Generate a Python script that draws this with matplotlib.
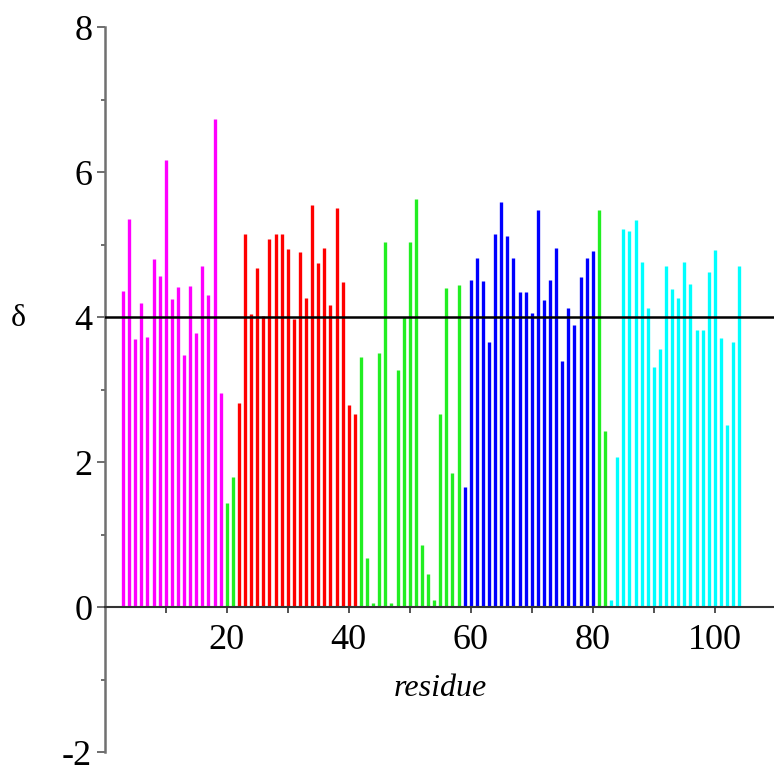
import matplotlib
matplotlib.use("Agg")
import matplotlib.pyplot as plt

plt.rcParams['font.family'] = ['Liberation Serif', 'DejaVu Serif']
plt.rcParams['axes.unicode_minus'] = False

# residue numbers and delta values, one group per colour
magenta_res = list(range(3, 20))
magenta_val = [4.36, 5.35, 3.69, 4.19, 3.72, 4.80, 4.56, 6.16, 4.25, 4.42,
               3.48, 4.43, 3.78, 4.70, 4.30, 6.73, 2.95]

green1_res = [20, 21]
green1_val = [1.44, 1.79]

red_res = list(range(22, 42))
red_val = [2.82, 5.15, 4.04, 4.68, 4.02, 5.08, 5.14, 5.15, 4.94, 3.97,
           4.89, 4.26, 5.54, 4.74, 4.95, 4.17, 5.51, 4.48, 2.78, 2.66]

green2_res = list(range(42, 59))
green2_val = [3.45, 0.67, 0.05, 3.50, 5.04, 0.05, 3.27, 4.00, 5.04, 5.63,
              0.86, 0.45, 0.09, 2.66, 4.40, 1.85, 4.44]

blue_res = list(range(59, 81))
blue_val = [1.66, 4.51, 4.82, 4.50, 3.65, 5.15, 5.59, 5.12, 4.82, 4.35, 4.35,
            4.05, 5.47, 4.23, 4.51, 4.95, 3.40, 4.13, 3.89, 4.55, 4.82, 4.91]

green3_res = [81, 82]
green3_val = [5.48, 2.43]

cyan_res = list(range(83, 105))
cyan_val = [0.09, 2.07, 5.22, 5.18, 5.34, 4.76, 4.13, 3.31, 3.56, 4.70, 4.38,
            4.26, 4.76, 4.45, 3.82, 3.82, 4.62, 4.93, 3.71, 2.51, 3.66, 4.70]

threshold = 4
xticks = [10, 20, 30, 40, 50, 60, 70, 80, 90, 100]
xticklabels = ['', '20', '', '40', '', '60', '', '80', '', '100']
yticks = [-2, 0, 2, 4, 6, 8]

fig = plt.figure(figsize=(7.74, 7.72), dpi=100)
ax = fig.add_axes([0.1353, 0.0259, 0.8647, 0.9391])

groups = [(magenta_res, magenta_val, '#ff00ff'),
          (green1_res, green1_val, '#22ee22'),
          (red_res, red_val, '#ff0000'),
          (green2_res, green2_val, '#22ee22'),
          (blue_res, blue_val, '#0000ff'),
          (green3_res, green3_val, '#22ee22'),
          (cyan_res, cyan_val, '#00ffff')]
for res, val, col in groups:
    ax.vlines(res, 0, val, colors=col, lw=2.4, zorder=2)

ax.axhline(threshold, color='k', lw=1.8, zorder=3)

ax.set_xlim(0, 109.7)
ax.set_ylim(-2, 8)

for s in ['top', 'right']:
    ax.spines[s].set_visible(False)
ax.spines['left'].set_position(('data', 0))
ax.spines['bottom'].set_position(('data', 0))
ax.spines['left'].set_color('#707070')
ax.spines['bottom'].set_color('#333333')
ax.spines['left'].set_linewidth(1.8)
ax.spines['bottom'].set_linewidth(1.5)
ax.spines['bottom'].set_zorder(4)

ax.set_xticks(xticks)
ax.set_xticklabels(xticklabels)
ax.set_yticks(yticks)
ax.set_yticks([-1, 1, 3, 5, 7], minor=True)
ax.tick_params(axis='x', direction='out', length=4, width=1.2, color='#333333',
               labelsize=26, pad=8)
ax.tick_params(axis='y', which='major', direction='out', length=6, width=1.2,
               color='#555555', labelsize=26, pad=3)
ax.tick_params(axis='y', which='minor', direction='out', length=3, width=1.2,
               color='#555555')

# labels placed in pixel coordinates (origin bottom-left)
ax.text(440, 772 - 688, 'residue', transform=None, fontsize=23, style='italic',
        ha='center', va='center')
ax.text(18, 772 - 318, 'δ', transform=None, fontsize=23,
        ha='center', va='center')

fig.savefig('out.png', dpi=100)
